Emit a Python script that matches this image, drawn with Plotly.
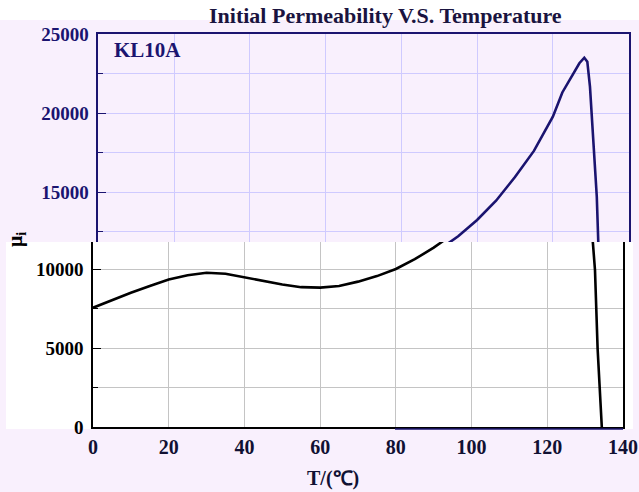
import plotly.graph_objects as go

# ---- data ----
temperature = [0, 5, 10, 15, 20, 25, 30, 35, 40, 45, 50, 55, 60, 65, 70, 75, 80, 85, 90, 95,
               100, 105, 110, 115, 120, 122.5, 125, 127, 128.3, 129.1, 129.8, 131.0, 131.6,
               132.0, 132.6, 133.3, 134.4]
permeability = [7550, 8050, 8500, 8930, 9330, 9600, 9760, 9700, 9470, 9250, 9020, 8850, 8820,
                 8920, 9200, 9550, 10000, 10620, 11350, 12200, 13230, 14450, 15950, 17600, 19770,
                 21300, 22350, 23150, 23500, 23250, 21670, 17450, 14700, 11800, 9940, 4920, 0]
x_ticks = [0, 20, 40, 60, 80, 100, 120, 140]
title_text = "Initial Permeability V.S. Temperature"
sample_label = "KL10A"
x_title = "T/(℃)"
y_title = "μ<sub>i</sub>"

W, H = 639, 492
LAV = "#f9f0fd"
NAVY = "#1b1470"
PURPLE_GRID = "#cfcaff"
GRAY_GRID = "#c4c4c4"
FONT = "Liberation Serif"


def px(x):
    return x / W


def py(y):
    return 1 - y / H


split_px = 242
bottom_top_val = (427 - split_px) * 5000 / 79.0
top_bot_val = (429 - split_px) * 5000 / 79.0

fig = go.Figure()
fig.add_trace(go.Scatter(x=temperature, y=permeability, mode="lines",
                         line=dict(color="black", width=2.6), xaxis="x", yaxis="y",
                         hoverinfo="skip"))
fig.add_trace(go.Scatter(x=temperature, y=permeability, mode="lines",
                         line=dict(color=NAVY, width=2.6), xaxis="x2", yaxis="y2",
                         hoverinfo="skip"))

tickfont_black = dict(family=FONT, size=19, color="black", weight="bold")
tickfont_navy = dict(family=FONT, size=19, color=NAVY, weight="bold")

fig.update_layout(
    width=W, height=H, margin=dict(l=0, r=0, t=0, b=0, autoexpand=False),
    paper_bgcolor=LAV, plot_bgcolor="rgba(0,0,0,0)", showlegend=False,
    xaxis=dict(domain=[px(93), px(623)], range=[0, 140], anchor="y", automargin=False,
               tickvals=x_ticks, ticks="", showline=True, linecolor="black", linewidth=1.5,
               showgrid=True, gridcolor=GRAY_GRID, gridwidth=1, zeroline=False,
               tickfont=dict(family=FONT, size=20, color="#111133", weight="bold"),
               ticklabelstandoff=1),
    yaxis=dict(domain=[py(427), py(split_px)], range=[0, bottom_top_val], anchor="x",
               automargin=False,
               tick0=0, dtick=5000, tickformat="d", ticks="inside", ticklen=8,
               tickcolor="black",
               showline=True, mirror=True, linecolor="black", linewidth=1.5,
               showgrid=True, gridcolor=GRAY_GRID, zeroline=False,
               minor=dict(dtick=2500, tick0=0, ticks="inside", ticklen=5, tickcolor="black",
                          showgrid=True, gridcolor=GRAY_GRID),
               tickfont=tickfont_black, ticklabelstandoff=4),
    xaxis2=dict(domain=[px(98.4), px(628.6)], range=[0, 140], anchor="y2", side="top",
                automargin=False,
                tickvals=x_ticks, ticks="", showticklabels=False,
                showline=True, linecolor=NAVY, linewidth=1.5,
                showgrid=True, gridcolor=PURPLE_GRID, zeroline=False),
    yaxis2=dict(domain=[py(split_px), py(34)], range=[top_bot_val, 25000], anchor="x2",
                automargin=False,
                tick0=0, dtick=5000, tickformat="d", ticks="inside", ticklen=8,
                tickcolor=NAVY,
                showline=True, mirror=True, linecolor=NAVY, linewidth=1.5,
                showgrid=True, gridcolor=PURPLE_GRID, zeroline=False,
                minor=dict(dtick=2500, tick0=0, ticks="inside", ticklen=5, tickcolor=NAVY,
                           showgrid=True, gridcolor=PURPLE_GRID),
                tickfont=tickfont_navy, ticklabelstandoff=4),
    shapes=[
        dict(type="rect", xref="paper", yref="paper", x0=0, x1=1, y0=py(20), y1=1,
             fillcolor="white", line=dict(width=0), layer="below"),
        dict(type="rect", xref="paper", yref="paper", x0=px(6), x1=px(633),
             y0=py(429), y1=py(split_px), fillcolor="white", line=dict(width=0), layer="below"),
        dict(type="line", xref="paper", yref="paper", x0=px(395), x1=px(623),
             y0=py(429), y1=py(429), line=dict(color=NAVY, width=1.5), layer="above"),
    ],
    annotations=[
        dict(text="<b>" + title_text + "</b>", xref="paper", yref="paper",
             x=px(385), y=py(15), xanchor="center", yanchor="middle", showarrow=False,
             font=dict(family=FONT, size=22, color="#1a1440")),
        dict(text="<b>" + sample_label + "</b>", xref="paper", yref="paper",
             x=px(147), y=py(50), xanchor="center", yanchor="middle", showarrow=False,
             font=dict(family=FONT, size=21, color=NAVY)),
        dict(text="<b>" + x_title + "</b>", xref="paper", yref="paper",
             x=px(333), y=py(478), xanchor="center", yanchor="middle", showarrow=False,
             font=dict(family=FONT, size=20, color="#111133")),
        dict(text="<b>" + y_title + "</b>", xref="paper", yref="paper",
             x=px(16), y=py(240), xanchor="center", yanchor="middle", showarrow=False,
             textangle=-90,
             font=dict(family=FONT, size=20, color="black")),
    ],
)

fig.write_html("out.html", config={"displayModeBar": False},
               post_script="document.body.style.margin='0';document.body.style.padding='0';")
